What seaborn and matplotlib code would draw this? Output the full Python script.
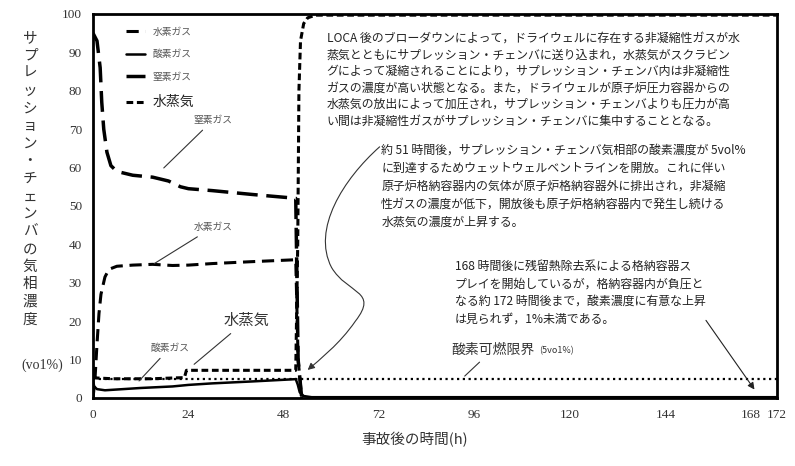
import numpy as np
import pandas as pd
import matplotlib.pyplot as plt
import seaborn as sns
from matplotlib.path import Path
from matplotlib.patches import FancyArrowPatch
from matplotlib.lines import Line2D

# gas concentrations in the suppression chamber (vol%) vs time after accident (h)
t_h2 = [0, 0.5, 1, 1.5, 2, 3, 4, 6, 10, 15, 20, 24, 30, 40, 51, 51.6, 52.5]
v_h2 = [0, 5, 14, 22, 27, 31.5, 33.5, 34.3, 34.6, 34.8, 34.5, 34.6, 35, 35.5, 36, 10, 0]

t_o2 = [0, 0.3, 1, 3, 6, 12, 20, 24, 30, 40, 51, 51.5, 52, 53, 55, 172]
v_o2 = [4.5, 3.0, 2.3, 2.0, 2.2, 2.6, 3.0, 3.4, 3.8, 4.3, 4.9, 3.5, 1.5, 0.5, 0.2, 0.2]

t_n2 = [0, 1, 1.8, 2.2, 2.7, 3.5, 4.5, 6, 10, 15, 19, 22, 24, 30, 40, 51, 51.6, 52.5]
v_n2 = [95, 93, 86, 77, 70, 64, 60.5, 59, 58, 57.5, 56.5, 55, 54.5, 54, 53, 52, 10, 0]

t_steam = [0, 1, 5, 10, 15, 20, 23, 23.5, 30, 40, 51, 51.5, 51.8, 52.2, 53, 54, 56, 60, 80, 120, 172]
v_steam = [5.5, 5.2, 5.0, 5.0, 5.0, 5.2, 5.3, 7.2, 7.2, 7.2, 7.2, 40, 80, 93, 97.5, 99, 99.7, 99.7, 99.7, 99.7, 99.7]

t_limit = [0, 172]
v_limit = [5, 5]

x_ticks = [0, 24, 48, 72, 96, 120, 144, 168, 172]
y_ticks = list(range(0, 101, 10))

sns.set_style("white")
plt.rcParams['font.family'] = ['Noto Sans CJK JP', 'DejaVu Sans']

fig = plt.figure(figsize=(7.95, 4.66), dpi=100)
ax = fig.add_axes([0.117, 0.146, 0.860, 0.824])

series = [
    ("水素ガス", t_h2, v_h2, (4, 2.2), 2.2),
    ("酸素ガス", t_o2, v_o2, None, 1.8),
    ("窒素ガス", t_n2, v_n2, (6, 2.5), 2.5),
    ("水蒸気", t_steam, v_steam, (2.2, 1.2), 2.2),
]
for name, t, v, dash, lw in series:
    df = pd.DataFrame({"t": t, "v": v})
    sns.lineplot(data=df, x="t", y="v", ax=ax, color="black", lw=lw,
                 sort=False, estimator=None)
    if dash is not None:
        ax.lines[-1].set_dashes(dash)

sns.lineplot(x=t_limit, y=v_limit, ax=ax, color="black", lw=1.6)
ax.lines[-1].set_dashes((1, 1.6))

ax.set_xlim(0, 172)
ax.set_ylim(0, 100)
ax.set_xticks(x_ticks)
ax.set_yticks(y_ticks)
ax.set_xlabel("")
ax.set_ylabel("")
ax.tick_params(direction="in", length=4, width=0.8, colors="#444", labelcolor="#333", pad=8)
for lab in ax.get_xticklabels() + ax.get_yticklabels():
    lab.set_family("Liberation Serif")
    lab.set_fontsize(9.5)
xl = ax.get_xticklabels()
xl[-2].set_horizontalalignment("right")
xl[-2].set_x(169.6)
xl[-1].set_horizontalalignment("center")
xl[-1].set_x(172.4)
for sp in ax.spines.values():
    sp.set_linewidth(2)
    sp.set_color("black")

# legend
handles = [
    Line2D([], [], color="black", lw=2.2, dashes=(4, 2.2)),
    Line2D([], [], color="black", lw=1.8),
    Line2D([], [], color="black", lw=2.5, dashes=(6, 2.5)),
    Line2D([], [], color="black", lw=2.2, dashes=(2.2, 1.2)),
]
leg = ax.legend(handles, ["水素ガス", "酸素ガス", "窒素ガス", "水蒸気"], loc="upper left",
                bbox_to_anchor=(0.035, 0.99), frameon=False, handlelength=2.0,
                handletextpad=0.8, labelspacing=1.3, prop={"size": 7})
for txt in leg.get_texts():
    txt.set_color("#555")
leg.get_texts()[3].set_fontsize(10)
leg.get_texts()[3].set_color("#222")

txt_kw = dict(fontsize=8.6, color="#222", va="top", ha="left")

ax.text(58.8, 95.3,
        "LOCA 後のブローダウンによって，ドライウェルに存在する非凝縮性ガスが水\n"
        "蒸気とともにサプレッション・チェンバに送り込まれ，水蒸気がスクラビン\n"
        "グによって凝縮されることにより，サプレッション・チェンバ内は非凝縮性\n"
        "ガスの濃度が高い状態となる。また，ドライウェルが原子炉圧力容器からの\n"
        "水蒸気の放出によって加圧され，サプレッション・チェンバよりも圧力が高\n"
        "い間は非凝縮性ガスがサプレッション・チェンバに集中することとなる。",
        linespacing=1.35, **txt_kw)

ax.text(72.5, 66.3,
        "約 51 時間後，サプレッション・チェンバ気相部の酸素濃度が 5vol%\n"
        "に到達するためウェットウェルベントラインを開放。これに伴い\n"
        "原子炉格納容器内の気体が原子炉格納容器外に排出され，非凝縮\n"
        "性ガスの濃度が低下，開放後も原子炉格納容器内で発生し続ける\n"
        "水蒸気の濃度が上昇する。",
        linespacing=1.5, **txt_kw)

ax.text(91, 36.0,
        "168 時間後に残留熱除去系による格納容器ス\n"
        "プレイを開始しているが，格納容器内が負圧と\n"
        "なる約 172 時間後まで，酸素濃度に有意な上昇\n"
        "は見られず，1%未満である。",
        linespacing=1.45, **txt_kw)

# callouts
lab_kw = dict(color="#555", fontsize=7, ha="center", va="center")
line_kw = dict(arrowstyle="-", color="#333", lw=0.8)
ax.annotate("窒素ガス", xy=(17.3, 59.4), xytext=(30.2, 72.4), arrowprops=line_kw, **lab_kw)
ax.annotate("水素ガス", xy=(14.8, 34.6), xytext=(30.2, 44.5), arrowprops=line_kw, **lab_kw)
ax.annotate("酸素ガス", xy=(11.1, 3.9), xytext=(19.3, 13.0), arrowprops=line_kw, **lab_kw)
ax.annotate("水蒸気", xy=(24.9, 8.3), xytext=(38.7, 20.3), arrowprops=line_kw,
            color="#333", fontsize=11, ha="center", va="center")
ax.annotate("酸素可燃限界", xy=(93, 5.2), xytext=(100.5, 12.5), arrowprops=line_kw,
            color="#333", fontsize=10, ha="center", va="center")
ax.text(112.3, 12.2, "(5vo1%)", color="#333", fontsize=6.5, ha="left", va="center")
ax.annotate("", xy=(166.8, 1.6), xytext=(153.8, 20.8),
            arrowprops=dict(arrowstyle="-|>", color="#222", lw=0.8, mutation_scale=10))

# S-shaped arrow for the vent opening note
s_path = Path(
    [(72.1, 65.4), (63, 57), (55, 44), (60, 34),
     (64, 27), (72, 28), (66, 20),
     (62, 14), (57, 10), (54.0, 7.3)],
    [Path.MOVETO, Path.CURVE4, Path.CURVE4, Path.CURVE4,
     Path.CURVE4, Path.CURVE4, Path.CURVE4,
     Path.CURVE4, Path.CURVE4, Path.CURVE4])
ax.add_patch(FancyArrowPatch(path=s_path, arrowstyle="-|>", color="#333", lw=0.8,
                             mutation_scale=10))

# y label written vertically, one character per row
ylab = "サプレッション・チェンバの気相濃度"
for i, ch in enumerate(ylab):
    fig.text(30 / 795, 1 - (38 + i * 17.6) / 466, ch, fontsize=10.5, color="#333",
             ha="center", va="center")
fig.text(42 / 795, 1 - 365 / 466, "(vo1%)", fontsize=10, color="#333",
         ha="center", va="center", family="Liberation Serif")
fig.text(415 / 795, 1 - 440 / 466, "事故後の時間(h)", fontsize=10.5, color="#333",
         ha="center", va="center")

fig.savefig("out.png", dpi=100, facecolor="white")
